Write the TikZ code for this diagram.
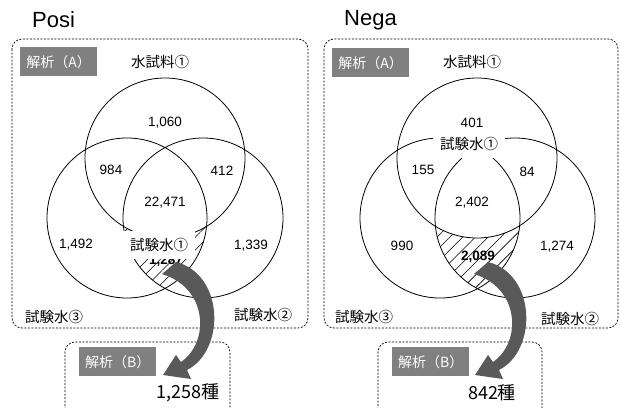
\documentclass[tikz,border=0pt]{standalone}
\usepackage{fontspec}
\setmainfont{Liberation Sans}
\newfontfamily\jp{Noto Sans CJK JP}
\usetikzlibrary{patterns.meta}
\tikzset{
  panel/.style={draw, dashed, dash pattern=on 2pt off 1.5pt, line width=0.7pt, rounded corners=10pt},
  tagbox/.style={fill=black!50, text=white, font=\jp\fontsize{14}{15}\selectfont, minimum width=77pt, minimum height=29pt, inner sep=0pt, anchor=north west},
  num/.style={font=\fontsize{13.5}{14}\selectfont, inner sep=1pt},
  bnum/.style={font=\bfseries\fontsize{13.5}{14}\selectfont, inner sep=1pt},
  jlab/.style={font=\jp\fontsize{14.5}{15}\selectfont, inner sep=1pt},
  wlab/.style={jlab, fill=white, minimum width=72pt, minimum height=28pt},
  reslab/.style={font=\jp\fontsize{18}{19}\selectfont, inner sep=1pt},
  title/.style={font=\fontsize{22}{24}\selectfont, anchor=west, inner sep=0pt},
  venn/.style={draw, line width=0.8pt},
  bigarrow/.style={fill=black!65, draw=none},
  hatch/.style={pattern={Lines[angle=45,distance=9pt,line width=0.6pt]}}
}
\begin{document}
\begin{tikzpicture}[x=1pt,y=-1pt]
\useasboundingbox (0,0) rectangle (620,407);
% ================= Posi =================
\node[title] (tP) at (32,20) {Posi};
\draw[panel] (12,39) rectangle (308,328);
\node[tagbox] (aP) at (20,47) {解析（A）};
\node[jlab] (s1P) at (160,62) {水試料①};
\begin{scope}
  \clip (127,218) circle (80);
  \clip (203,218) circle (80);
  \fill[hatch, even odd rule] (0,0) rectangle (620,407) (165,158) circle (80);
\end{scope}
\draw[venn] (165,158) circle (80);
\draw[venn] (127,218) circle (80);
\draw[venn] (203,218) circle (80);
\node[num] (n1P) at (165,123) {1,060};
\node[num] (n2P) at (111,170) {984};
\node[num] (n3P) at (222,171) {412};
\node[num] (n4P) at (165,203) {22,471};
\node[num] (n5P) at (76,245) {1,492};
\node[num] (n6P) at (251,246) {1,339};
\node[bnum] (n7P) at (166,261) {1,287};
\node[wlab] (w1P) at (159,245) {試験水①};
\node[jlab] (w3P) at (54,317) {試験水③};
\node[jlab] (w2P) at (263,315) {試験水②};
\draw[panel] (65,420) -- (65,342) -- (230,342) -- (230,420);
\node[tagbox] (bP) at (79,347) {解析（B）};
\node[reslab] (rP) at (188,393) {1,258種};
\fill[bigarrow] (162,274) -- (176,262) .. controls (224,274) and (226,350) .. (187,370)
   -- (191,379) -- (163,375) -- (176,355) -- (181,362)
   .. controls (210,342) and (208,288) .. (162,274) -- cycle;
% ================= Nega =================
\begin{scope}[xshift=312pt]
\node[title] (tN) at (32,20) {Nega};
\draw[panel] (12,39) rectangle (306,328);
\node[tagbox] (aN) at (20,48) {解析（A）};
\node[jlab] (s1N) at (160,62) {水試料①};
\begin{scope}
  \clip (128,218) circle (80);
  \clip (203,218) circle (80);
  \fill[hatch, even odd rule] (0,0) rectangle (320,407) (165,158) circle (80);
\end{scope}
\draw[venn] (165,158) circle (80);
\draw[venn] (128,218) circle (80);
\draw[venn] (203,218) circle (80);
\node[num] (n1N) at (160,123) {401};
\node[num] (n2N) at (111,170) {155};
\node[num] (n3N) at (215,172) {84};
\node[num] (n4N) at (160,203) {2,402};
\node[num] (n5N) at (90,246) {990};
\node[num] (n6N) at (245,247) {1,274};
\node[bnum] (n7N) at (166,257) {2,089};
\node[wlab] (w1N) at (157,144) {試験水①};
\node[jlab] (w3N) at (52,317) {試験水③};
\node[jlab] (w2N) at (258,319) {試験水②};
\draw[panel] (66,420) -- (66,342) -- (230,342) -- (230,420);
\node[tagbox] (bN) at (80,347) {解析（B）};
\node[reslab] (rN) at (180,393) {842種};
\fill[bigarrow] (162,274) -- (176,262) .. controls (224,274) and (226,350) .. (187,370)
   -- (191,379) -- (163,375) -- (176,355) -- (181,362)
   .. controls (210,342) and (208,288) .. (162,274) -- cycle;
\end{scope}
\end{tikzpicture}
\end{document}
